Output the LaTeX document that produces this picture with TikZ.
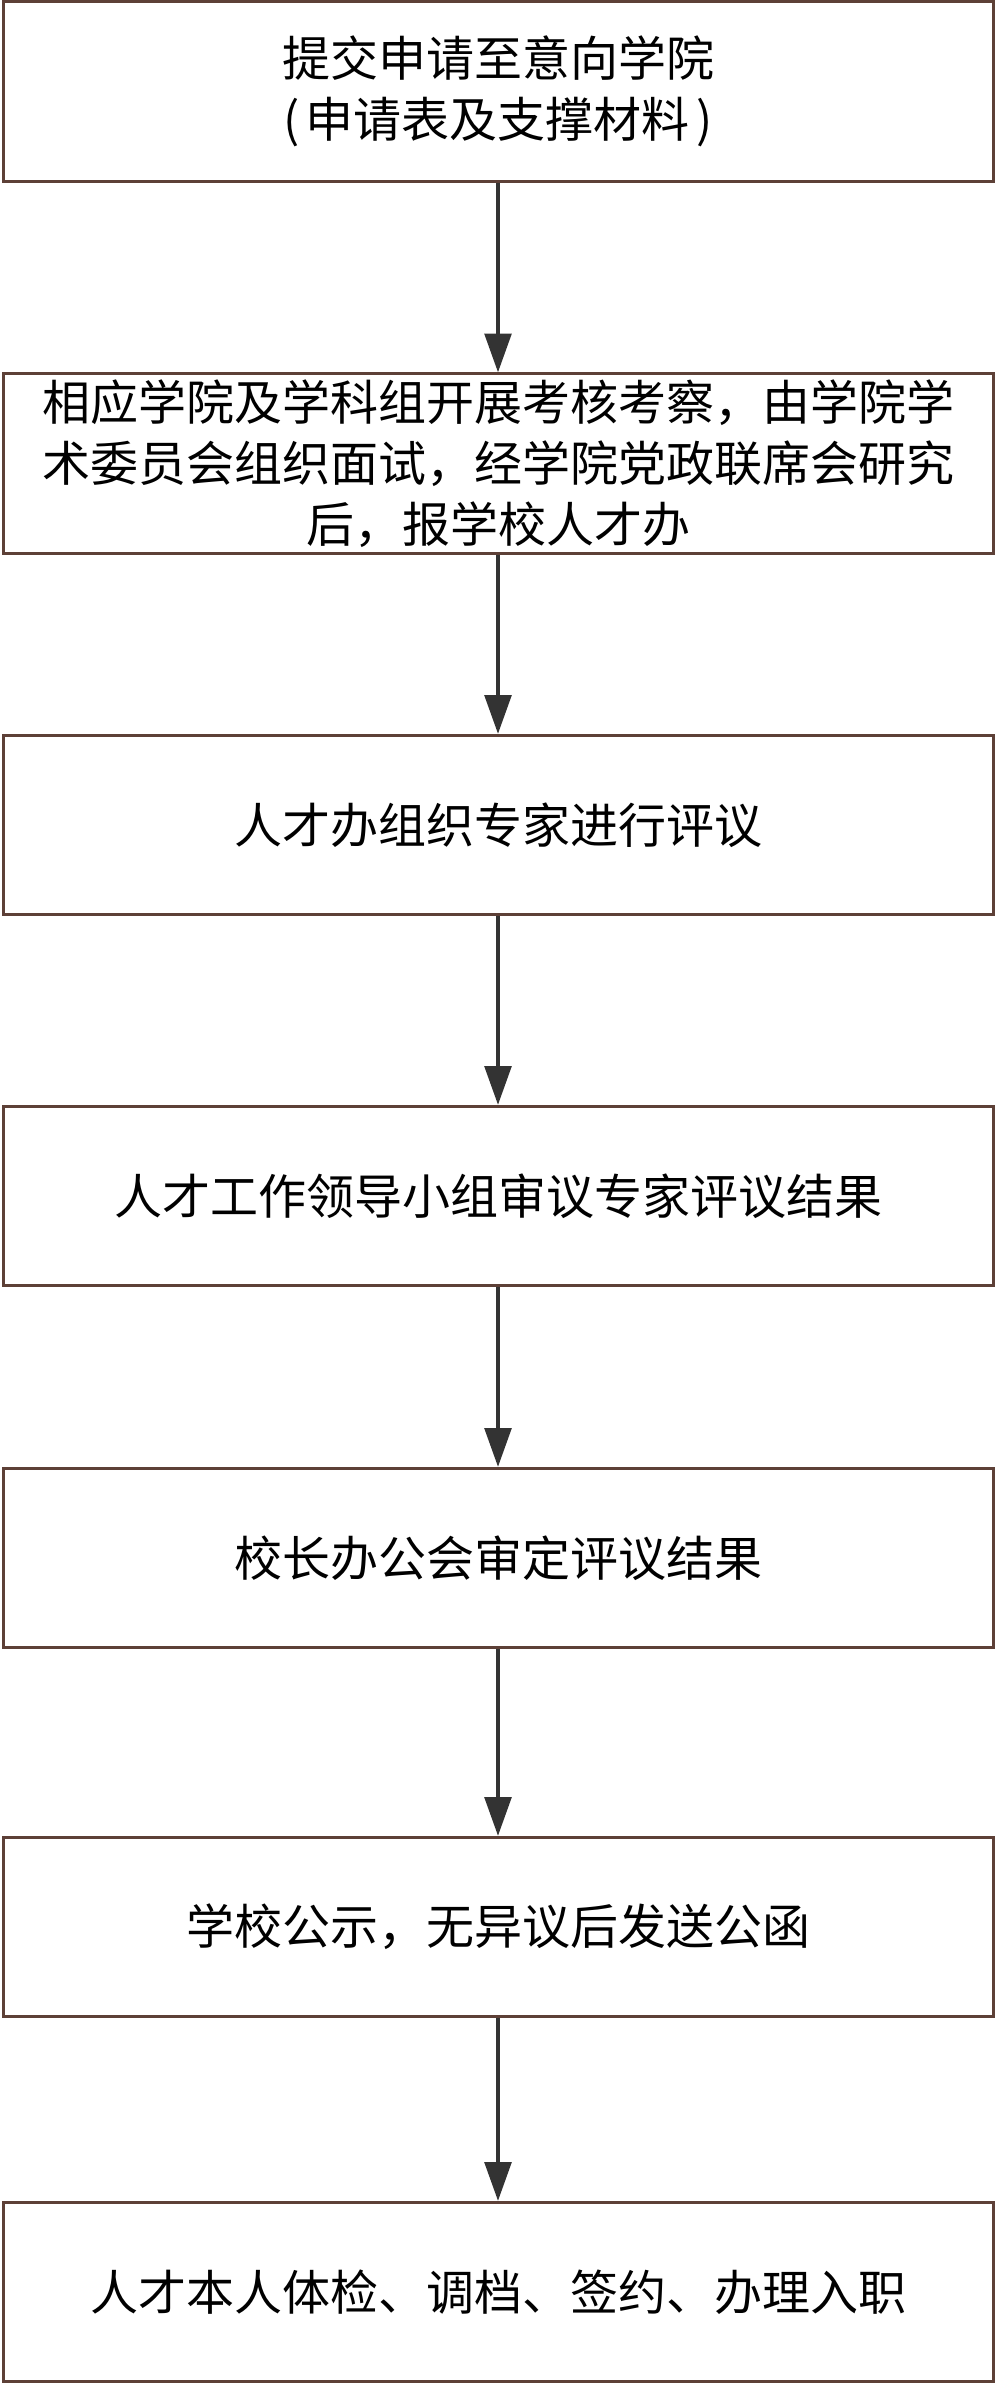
\documentclass[tikz,border=0pt]{standalone}
\usepackage{fontspec}
\newfontfamily\cjk{Noto Sans CJK SC}
\usetikzlibrary{arrows.meta}

\definecolor{boxline}{RGB}{93,64,55}
\definecolor{arrowgray}{RGB}{51,51,51}

\tikzset{every picture/.style={line width=0.75pt}}
\tikzset{
	stepbox/.style={draw=boxline, line width=2.25pt, fill=white,
		minimum width=742.5pt, minimum height=134.5pt, inner sep=0pt,
		align=center, font=\cjk\fontsize{36}{45.75}\selectfont},
	flowarrow/.style={draw=arrowgray, line width=2.6pt,
		-{Triangle[length=29pt,width=20pt,fill=arrowgray]}}
}

\begin{document}
\begin{tikzpicture}[x=0.75pt,y=0.75pt,yscale=-1,xscale=1]
	\useasboundingbox (0,0) rectangle (996,2383); %whole page, 996 x 2383

	%Shape: Rectangle [submit]
	\node[stepbox] (submit) at (498,91.5) {提交申请至意向学院\\(\kern5pt 申请表及支撑材料\kern5pt)};
	%Shape: Rectangle [college]
	\node[stepbox] (college) at (498,463.5) {相应学院及学科组开展考核考察，由学院学\\术委员会组织面试，经学院党政联席会研究\\后，报学校人才办};
	%Shape: Rectangle [experts]
	\node[stepbox] (experts) at (498,825) {人才办组织专家进行评议};
	%Shape: Rectangle [leaders]
	\node[stepbox] (leaders) at (498,1196) {人才工作领导小组审议专家评议结果};
	%Shape: Rectangle [president]
	\node[stepbox] (president) at (498,1558) {校长办公会审定评议结果};
	%Shape: Rectangle [publicity]
	\node[stepbox] (publicity) at (498,1927) {学校公示，无异议后发送公函};
	%Shape: Rectangle [onboard]
	\node[stepbox] (onboard) at (498,2292) {人才本人体检、调档、签约、办理入职};

	%Straight Lines
	\draw[flowarrow] (submit) -- (college);
	\draw[flowarrow] (college) -- (experts);
	\draw[flowarrow] (experts) -- (leaders);
	\draw[flowarrow] (leaders) -- (president);
	\draw[flowarrow] (president) -- (publicity);
	\draw[flowarrow] (publicity) -- (onboard);

\end{tikzpicture}
\end{document}
